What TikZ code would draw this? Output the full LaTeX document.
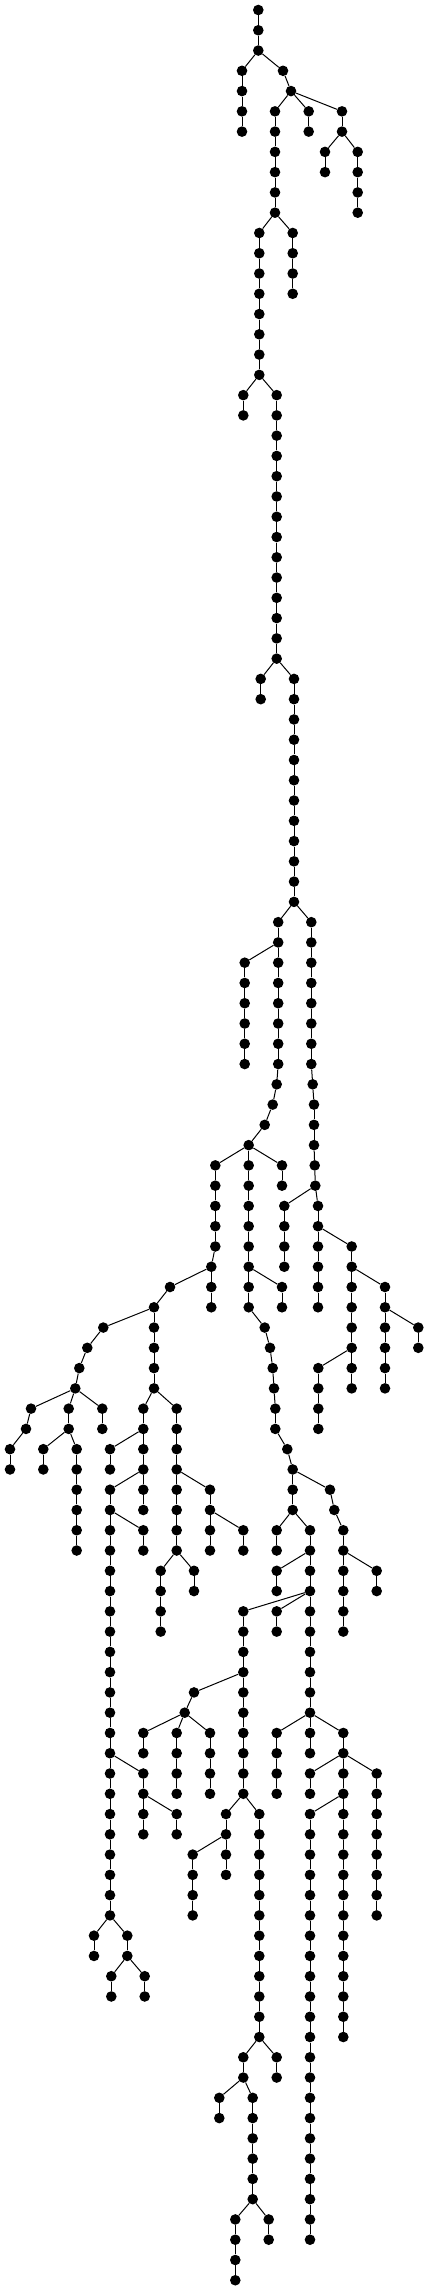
\documentclass[tikz,border=0pt]{standalone}
\usepackage{tikz}
\tikzset{
  dot/.style={circle,fill=black,draw=none,inner sep=0pt,minimum size=10.6pt},
  edge/.style={draw=black,line width=1pt}
}
\newcommand\mkchain[4]{%
  \foreach \k in {#3,...,#4} {\node[dot] (#1-\k) at (#2,\k) {};}%
  \ifnum#3<#4\relax
    \pgfmathtruncatemacro\chainnext{#3+1}%
    \foreach \k [count=\j from #3] in {\chainnext,...,#4} {\draw[edge] (#1-\j) -- (#1-\k);}%
  \fi}
\newcommand\mynd[3]{\node[dot] (#1) at (#2,#3) {};}
\newcommand\myed[2]{\draw[edge] (#1) -- (#2);}
\begin{document}
\begin{tikzpicture}[x=1pt,y=-20.27pt]
\useasboundingbox (0pt,0pt) rectangle (428pt,-2290pt);
\begin{scope}[shift={(0pt,-10pt)}]
% top
\mkchain{A}{258.3}{0}{2}
\mkchain{B}{242}{3}{6} \myed{A-2}{B-3}
\mynd{C}{283}{3} \myed{A-2}{C}
\mynd{D}{291}{4} \myed{C}{D}
\mkchain{E}{275}{5}{10} \myed{D}{E-5}
\mkchain{F}{308.7}{5}{6} \myed{D}{F-5}
\mkchain{G}{342}{5}{6} \myed{D}{G-5}
\mkchain{H}{325}{7}{8} \myed{G-6}{H-7}
\mkchain{I}{357.7}{7}{10} \myed{G-6}{I-7}
\mkchain{J}{259.3}{11}{18} \myed{E-10}{J-11}
\mkchain{K}{292.7}{11}{14} \myed{E-10}{K-11}
\mkchain{L}{243.3}{19}{20} \myed{J-18}{L-19}
\mkchain{M}{276.7}{19}{32} \myed{J-18}{M-19}
\mkchain{N}{260.7}{33}{34} \myed{M-32}{N-33}
\mkchain{O}{294}{33}{44} \myed{M-32}{O-33}
\mkchain{P}{278.2}{45}{52} \myed{O-44}{P-45}
\mynd{P53}{276.7}{53} \myed{P-52}{P53}
\mynd{P54}{272.7}{54} \myed{P53}{P54}
\mynd{P55}{264.7}{55} \myed{P54}{P55}
\mynd{P56}{248.7}{56} \myed{P55}{P56}
\mkchain{Q}{244.7}{47}{52} \myed{P-46}{Q-47}
\mkchain{R}{311.3}{45}{52} \myed{O-44}{R-45}
\mynd{R53}{312.7}{53} \myed{R-52}{R53}
\mynd{R54}{314}{54} \myed{R53}{R54}
\mynd{R55}{314}{55} \myed{R54}{R55}
\mynd{R56}{314}{56} \myed{R55}{R56}
\mynd{R57}{314.7}{57} \myed{R56}{R57}
\mynd{R58}{315.3}{58} \myed{R57}{R58}
\mkchain{S}{215.3}{57}{61} \myed{P56}{S-57}
\mkchain{T}{248.7}{57}{64} \myed{P56}{T-57}
\mkchain{U}{282}{57}{58} \myed{P56}{U-57}
\mkchain{V}{284.3}{59}{62} \myed{R58}{V-59}
\mkchain{W}{318}{59}{64} \myed{R58}{W-59}
\mkchain{X}{211.3}{62}{64} \myed{S-61}{X-62}
\mkchain{Y}{282}{63}{64} \myed{T-62}{Y-63}
\mkchain{Z}{351.7}{61}{68} \myed{W-60}{Z-61}
\mkchain{AA}{385}{63}{68} \myed{Z-62}{AA-63}
\mkchain{AB}{418.3}{65}{66} \myed{AA-64}{AB-65}
\mkchain{AC}{318.3}{67}{70} \myed{Z-66}{AC-67}
% left part
\mynd{l63}{170}{63} \myed{X-62}{l63}
\mynd{l64}{154}{64} \myed{l63}{l64}
\mkchain{LB}{154}{65}{68} \myed{l64}{LB-65}
\mynd{l65}{103.3}{65} \myed{l64}{l65}
\mynd{l66}{87.3}{66} \myed{l65}{l66}
\mynd{l67}{79.3}{67} \myed{l66}{l67}
\mynd{l68}{75.3}{68} \myed{l67}{l68}
\mynd{m69}{31}{69} \myed{l68}{m69}
\mynd{m70}{26}{70} \myed{m69}{m70}
\mkchain{MM}{10}{71}{72} \myed{m70}{MM-71}
\mkchain{NN}{68.7}{69}{70} \myed{l68}{NN-69}
\mkchain{OO}{43.3}{71}{72} \myed{NN-70}{OO-71}
\mkchain{PP}{76.7}{71}{76} \myed{NN-70}{PP-71}
\mkchain{QQ}{102.3}{69}{70} \myed{l68}{QQ-69}
\mkchain{RR}{143.3}{69}{74} \myed{LB-68}{RR-69}
\mkchain{SS}{110}{71}{72} \myed{RR-70}{SS-71}
\mkchain{TT}{110}{73}{94} \myed{RR-72}{TT-73}
\mkchain{UU}{143.3}{75}{76} \myed{TT-74}{UU-75}
\mkchain{VV}{176.7}{69}{76} \myed{LB-68}{VV-69}
\mkchain{WW}{210}{73}{76} \myed{VV-72}{WW-73}
\mkchain{XX}{243.3}{75}{76} \myed{WW-74}{XX-75}
\mkchain{YY}{160.7}{77}{80} \myed{VV-76}{YY-77}
\mkchain{ZZ}{194}{77}{78} \myed{VV-76}{ZZ-77}
\mkchain{TA}{143.3}{87}{90} \myed{TT-86}{TA-87}
\mkchain{TB}{176.7}{89}{90} \myed{TA-88}{TB-89}
\mkchain{TC}{94}{95}{96} \myed{TT-94}{TC-95}
\mkchain{TD}{127.3}{95}{96} \myed{TT-94}{TD-95}
\mkchain{TE}{111.3}{97}{98} \myed{TD-96}{TE-97}
\mkchain{TF}{144.7}{97}{98} \myed{TD-96}{TF-97}
% middle part
\mynd{c65}{264.7}{65} \myed{T-64}{c65}
\mynd{c66}{270}{66} \myed{c65}{c66}
\mynd{c67}{272.7}{67} \myed{c66}{c67}
\mynd{c68}{274}{68} \myed{c67}{c68}
\mynd{c69}{275.3}{69} \myed{c68}{c69}
\mynd{c70}{275.3}{70} \myed{c69}{c70}
\mynd{c71}{287.3}{71} \myed{c70}{c71}
\mkchain{CA}{292.7}{72}{74} \myed{c71}{CA-72}
\mynd{CB}{330}{73} \myed{CA-72}{CB}
\mynd{c74}{334.3}{74} \myed{CB}{c74}
\mkchain{CC}{343.3}{75}{80} \myed{c74}{CC-75}
\mkchain{CD}{376.7}{77}{78} \myed{CC-76}{CD-77}
\mkchain{CE}{276.7}{75}{76} \myed{CA-74}{CE-75}
\mkchain{CF}{310}{75}{84} \myed{CA-74}{CF-75}
\mkchain{CG}{276.7}{77}{78} \myed{CF-76}{CG-77}
\mkchain{CH}{243.3}{79}{88} \myed{CF-78}{CH-79}
\mkchain{CI}{276.7}{79}{80} \myed{CF-78}{CI-79}
\mynd{d83}{194}{83} \myed{CH-82}{d83}
\mynd{d84}{184.7}{84} \myed{d83}{d84}
\mkchain{DA}{143.3}{85}{86} \myed{d84}{DA-85}
\mkchain{DB}{176.7}{85}{88} \myed{d84}{DB-85}
\mkchain{DC}{210}{85}{88} \myed{d84}{DC-85}
\mkchain{DD}{226}{89}{92} \myed{CH-88}{DD-89}
\mkchain{DE}{192.7}{91}{94} \myed{DD-90}{DE-91}
\mkchain{DF}{259.3}{89}{100} \myed{CH-88}{DF-89}
\mkchain{DG}{276.7}{101}{102} \myed{DF-100}{DG-101}
\mkchain{DH}{243.3}{101}{102} \myed{DF-100}{DH-101}
\mkchain{DI}{219.3}{103}{104} \myed{DH-102}{DI-103}
\mkchain{DJ}{252.7}{103}{108} \myed{DH-102}{DJ-103}
\mkchain{DK}{235.3}{109}{112} \myed{DJ-108}{DK-109}
\mkchain{DL}{268.7}{109}{110} \myed{DJ-108}{DL-109}
\mkchain{EA}{276.7}{85}{88} \myed{CF-84}{EA-85}
\mkchain{EB}{310}{85}{86} \myed{CF-84}{EB-85}
\mkchain{EC}{343.3}{85}{100} \myed{CF-84}{EC-85}
\mkchain{ED}{310}{87}{88} \myed{EC-86}{ED-87}
\mkchain{EE}{376.7}{87}{94} \myed{EC-86}{EE-87}
\mkchain{EF}{310}{89}{110} \myed{EC-88}{EF-89}
\end{scope}
\end{tikzpicture}
\end{document}
